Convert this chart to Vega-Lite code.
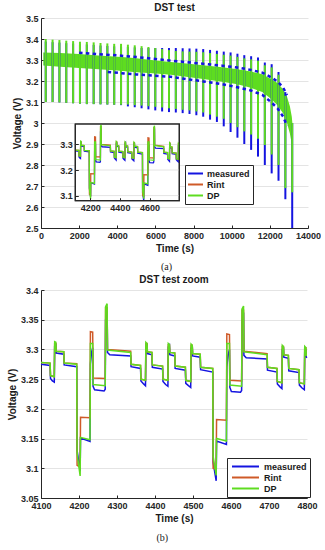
{
"$schema":"https://vega.github.io/schema/vega-lite/v6.json",
"padding":{"left":7,"top":3,"right":0,"bottom":0},
"config":{
 "font":"Liberation Sans",
 "view":{"stroke":null},
 "axis":{"labelFont":"Liberation Sans","labelFontSize":9,"labelFontWeight":"bold","labelColor":"#262626","titleFont":"Liberation Sans","titleFontSize":10,"titleFontWeight":"bold","titleColor":"#1a1a1a","domainColor":"#262626","domainWidth":1,"tickColor":"#262626","tickSize":-3,"labelPadding":6,"gridColor":"#e4e4e4","gridWidth":1,"labelFlush":false,"labelOverlap":false,"titlePadding":3},
 "axisX":{"grid":false},
 "title":{"font":"Liberation Sans","fontSize":10,"fontWeight":"bold","color":"#1a1a1a","offset":1,"frame":"group"},
 "legend":{"title":null,"orient":"none","symbolStrokeWidth":2,"symbolSize":81,"labelFont":"Liberation Sans","labelFontSize":9,"labelFontWeight":"bold","labelColor":"#1a1a1a","strokeColor":"#262626","fillColor":"white","padding":3},
 "concat":{"spacing":3}
},
"datasets":{
 "zoom":[
  {"s":"measured","t":4100,"v":3.275},{"s":"measured","t":4124,"v":3.273},{"s":"measured","t":4125,"v":3.251},{"s":"measured","t":4130,"v":3.247},{"s":"measured","t":4135,"v":3.245},{"s":"measured","t":4136,"v":3.306},{"s":"measured","t":4139,"v":3.31},{"s":"measured","t":4140,"v":3.294},{"s":"measured","t":4160,"v":3.292},{"s":"measured","t":4161,"v":3.274},{"s":"measured","t":4194,"v":3.271},{"s":"measured","t":4195,"v":3.13},{"s":"measured","t":4203,"v":3.095},{"s":"measured","t":4204,"v":3.151},{"s":"measured","t":4229,"v":3.145},{"s":"measured","t":4230,"v":3.275},{"s":"measured","t":4233,"v":3.295},{"s":"measured","t":4236,"v":3.303},{"s":"measured","t":4237,"v":3.238},{"s":"measured","t":4241,"v":3.232},{"s":"measured","t":4266,"v":3.23},{"s":"measured","t":4269,"v":3.233},{"s":"measured","t":4270,"v":3.35},{"s":"measured","t":4274,"v":3.365},{"s":"measured","t":4275,"v":3.295},{"s":"measured","t":4281,"v":3.291},{"s":"measured","t":4336,"v":3.289},{"s":"measured","t":4337,"v":3.271},{"s":"measured","t":4362,"v":3.268},{"s":"measured","t":4363,"v":3.247},{"s":"measured","t":4370,"v":3.242},{"s":"measured","t":4375,"v":3.239},{"s":"measured","t":4376,"v":3.305},{"s":"measured","t":4379,"v":3.309},{"s":"measured","t":4380,"v":3.293},{"s":"measured","t":4392,"v":3.291},{"s":"measured","t":4393,"v":3.27},{"s":"measured","t":4420,"v":3.267},{"s":"measured","t":4421,"v":3.246},{"s":"measured","t":4428,"v":3.241},{"s":"measured","t":4434,"v":3.238},{"s":"measured","t":4435,"v":3.304},{"s":"measured","t":4438,"v":3.307},{"s":"measured","t":4439,"v":3.291},{"s":"measured","t":4452,"v":3.289},{"s":"measured","t":4453,"v":3.268},{"s":"measured","t":4480,"v":3.265},{"s":"measured","t":4481,"v":3.243},{"s":"measured","t":4488,"v":3.239},{"s":"measured","t":4494,"v":3.236},{"s":"measured","t":4495,"v":3.302},{"s":"measured","t":4498,"v":3.306},{"s":"measured","t":4499,"v":3.289},{"s":"measured","t":4519,"v":3.287},{"s":"measured","t":4520,"v":3.266},{"s":"measured","t":4552,"v":3.262},{"s":"measured","t":4553,"v":3.11},{"s":"measured","t":4561,"v":3.079},{"s":"measured","t":4562,"v":3.146},{"s":"measured","t":4588,"v":3.14},{"s":"measured","t":4589,"v":3.27},{"s":"measured","t":4592,"v":3.29},{"s":"measured","t":4596,"v":3.3},{"s":"measured","t":4597,"v":3.236},{"s":"measured","t":4601,"v":3.229},{"s":"measured","t":4625,"v":3.228},{"s":"measured","t":4628,"v":3.231},{"s":"measured","t":4629,"v":3.345},{"s":"measured","t":4633,"v":3.362},{"s":"measured","t":4634,"v":3.29},{"s":"measured","t":4640,"v":3.286},{"s":"measured","t":4695,"v":3.284},{"s":"measured","t":4696,"v":3.265},{"s":"measured","t":4721,"v":3.262},{"s":"measured","t":4722,"v":3.242},{"s":"measured","t":4729,"v":3.237},{"s":"measured","t":4734,"v":3.234},{"s":"measured","t":4735,"v":3.3},{"s":"measured","t":4738,"v":3.304},{"s":"measured","t":4739,"v":3.287},{"s":"measured","t":4751,"v":3.285},{"s":"measured","t":4752,"v":3.264},{"s":"measured","t":4779,"v":3.261},{"s":"measured","t":4780,"v":3.24},{"s":"measured","t":4787,"v":3.235},{"s":"measured","t":4793,"v":3.232},{"s":"measured","t":4794,"v":3.296},{"s":"measured","t":4797,"v":3.3},{"s":"measured","t":4798,"v":3.287},{"s":"measured","t":4800,"v":3.286},
  {"s":"Rint","t":4100,"v":3.278},{"s":"Rint","t":4124,"v":3.277},{"s":"Rint","t":4125,"v":3.256},{"s":"Rint","t":4135,"v":3.254},{"s":"Rint","t":4136,"v":3.31},{"s":"Rint","t":4139,"v":3.31},{"s":"Rint","t":4140,"v":3.297},{"s":"Rint","t":4160,"v":3.296},{"s":"Rint","t":4161,"v":3.277},{"s":"Rint","t":4194,"v":3.276},{"s":"Rint","t":4195,"v":3.105},{"s":"Rint","t":4203,"v":3.102},{"s":"Rint","t":4204,"v":3.186},{"s":"Rint","t":4229,"v":3.185},{"s":"Rint","t":4230,"v":3.33},{"s":"Rint","t":4236,"v":3.329},{"s":"Rint","t":4237,"v":3.252},{"s":"Rint","t":4269,"v":3.251},{"s":"Rint","t":4270,"v":3.37},{"s":"Rint","t":4274,"v":3.37},{"s":"Rint","t":4275,"v":3.3},{"s":"Rint","t":4336,"v":3.297},{"s":"Rint","t":4337,"v":3.275},{"s":"Rint","t":4362,"v":3.273},{"s":"Rint","t":4363,"v":3.25},{"s":"Rint","t":4375,"v":3.248},{"s":"Rint","t":4376,"v":3.31},{"s":"Rint","t":4379,"v":3.31},{"s":"Rint","t":4380,"v":3.296},{"s":"Rint","t":4392,"v":3.295},{"s":"Rint","t":4393,"v":3.274},{"s":"Rint","t":4420,"v":3.272},{"s":"Rint","t":4421,"v":3.25},{"s":"Rint","t":4434,"v":3.248},{"s":"Rint","t":4435,"v":3.308},{"s":"Rint","t":4438,"v":3.308},{"s":"Rint","t":4439,"v":3.295},{"s":"Rint","t":4452,"v":3.294},{"s":"Rint","t":4453,"v":3.272},{"s":"Rint","t":4480,"v":3.27},{"s":"Rint","t":4481,"v":3.248},{"s":"Rint","t":4494,"v":3.246},{"s":"Rint","t":4495,"v":3.307},{"s":"Rint","t":4498,"v":3.307},{"s":"Rint","t":4499,"v":3.293},{"s":"Rint","t":4519,"v":3.292},{"s":"Rint","t":4520,"v":3.27},{"s":"Rint","t":4552,"v":3.268},{"s":"Rint","t":4553,"v":3.1},{"s":"Rint","t":4561,"v":3.098},{"s":"Rint","t":4562,"v":3.182},{"s":"Rint","t":4588,"v":3.181},{"s":"Rint","t":4589,"v":3.326},{"s":"Rint","t":4596,"v":3.325},{"s":"Rint","t":4597,"v":3.248},{"s":"Rint","t":4628,"v":3.247},{"s":"Rint","t":4629,"v":3.366},{"s":"Rint","t":4633,"v":3.366},{"s":"Rint","t":4634,"v":3.297},{"s":"Rint","t":4695,"v":3.293},{"s":"Rint","t":4696,"v":3.27},{"s":"Rint","t":4721,"v":3.268},{"s":"Rint","t":4722,"v":3.246},{"s":"Rint","t":4734,"v":3.244},{"s":"Rint","t":4735,"v":3.305},{"s":"Rint","t":4738,"v":3.305},{"s":"Rint","t":4739,"v":3.291},{"s":"Rint","t":4751,"v":3.29},{"s":"Rint","t":4752,"v":3.268},{"s":"Rint","t":4779,"v":3.266},{"s":"Rint","t":4780,"v":3.244},{"s":"Rint","t":4793,"v":3.242},{"s":"Rint","t":4794,"v":3.303},{"s":"Rint","t":4797,"v":3.303},{"s":"Rint","t":4798,"v":3.29},{"s":"Rint","t":4800,"v":3.29},
  {"s":"DP","t":4100,"v":3.278},{"s":"DP","t":4124,"v":3.277},{"s":"DP","t":4125,"v":3.256},{"s":"DP","t":4135,"v":3.254},{"s":"DP","t":4136,"v":3.313},{"s":"DP","t":4139,"v":3.312},{"s":"DP","t":4140,"v":3.297},{"s":"DP","t":4160,"v":3.296},{"s":"DP","t":4161,"v":3.277},{"s":"DP","t":4194,"v":3.275},{"s":"DP","t":4195,"v":3.125},{"s":"DP","t":4203,"v":3.087},{"s":"DP","t":4204,"v":3.152},{"s":"DP","t":4229,"v":3.148},{"s":"DP","t":4230,"v":3.31},{"s":"DP","t":4236,"v":3.31},{"s":"DP","t":4237,"v":3.241},{"s":"DP","t":4269,"v":3.239},{"s":"DP","t":4270,"v":3.372},{"s":"DP","t":4274,"v":3.377},{"s":"DP","t":4275,"v":3.299},{"s":"DP","t":4336,"v":3.295},{"s":"DP","t":4337,"v":3.275},{"s":"DP","t":4362,"v":3.273},{"s":"DP","t":4363,"v":3.25},{"s":"DP","t":4375,"v":3.248},{"s":"DP","t":4376,"v":3.312},{"s":"DP","t":4379,"v":3.31},{"s":"DP","t":4380,"v":3.296},{"s":"DP","t":4392,"v":3.295},{"s":"DP","t":4393,"v":3.274},{"s":"DP","t":4420,"v":3.272},{"s":"DP","t":4421,"v":3.25},{"s":"DP","t":4434,"v":3.248},{"s":"DP","t":4435,"v":3.31},{"s":"DP","t":4438,"v":3.308},{"s":"DP","t":4439,"v":3.295},{"s":"DP","t":4452,"v":3.294},{"s":"DP","t":4453,"v":3.272},{"s":"DP","t":4480,"v":3.27},{"s":"DP","t":4481,"v":3.248},{"s":"DP","t":4494,"v":3.246},{"s":"DP","t":4495,"v":3.309},{"s":"DP","t":4498,"v":3.307},{"s":"DP","t":4499,"v":3.293},{"s":"DP","t":4519,"v":3.292},{"s":"DP","t":4520,"v":3.27},{"s":"DP","t":4552,"v":3.268},{"s":"DP","t":4553,"v":3.12},{"s":"DP","t":4561,"v":3.088},{"s":"DP","t":4562,"v":3.15},{"s":"DP","t":4588,"v":3.146},{"s":"DP","t":4589,"v":3.31},{"s":"DP","t":4596,"v":3.31},{"s":"DP","t":4597,"v":3.24},{"s":"DP","t":4628,"v":3.238},{"s":"DP","t":4629,"v":3.368},{"s":"DP","t":4633,"v":3.373},{"s":"DP","t":4634,"v":3.296},{"s":"DP","t":4695,"v":3.291},{"s":"DP","t":4696,"v":3.27},{"s":"DP","t":4721,"v":3.268},{"s":"DP","t":4722,"v":3.246},{"s":"DP","t":4734,"v":3.244},{"s":"DP","t":4735,"v":3.307},{"s":"DP","t":4738,"v":3.305},{"s":"DP","t":4739,"v":3.291},{"s":"DP","t":4751,"v":3.29},{"s":"DP","t":4752,"v":3.268},{"s":"DP","t":4779,"v":3.266},{"s":"DP","t":4780,"v":3.244},{"s":"DP","t":4793,"v":3.242},{"s":"DP","t":4794,"v":3.305},{"s":"DP","t":4797,"v":3.303},{"s":"DP","t":4798,"v":3.29},{"s":"DP","t":4800,"v":3.29}
 ],
 "spikes":[
  {"s":"measured","t":248,"lo":3.1,"hi":3.388},{"s":"measured","t":607,"lo":3.1,"hi":3.385},{"s":"measured","t":966,"lo":3.098,"hi":3.383},{"s":"measured","t":1325,"lo":3.096,"hi":3.38},{"s":"measured","t":1684,"lo":3.094,"hi":3.378},{"s":"measured","t":2043,"lo":3.092,"hi":3.375},{"s":"measured","t":2402,"lo":3.09,"hi":3.374},{"s":"measured","t":2761,"lo":3.09,"hi":3.372},{"s":"measured","t":3120,"lo":3.089,"hi":3.369},{"s":"measured","t":3479,"lo":3.088,"hi":3.367},{"s":"measured","t":3838,"lo":3.087,"hi":3.365},{"s":"measured","t":4197,"lo":3.085,"hi":3.365},{"s":"measured","t":4556,"lo":3.079,"hi":3.362},{"s":"measured","t":4915,"lo":3.075,"hi":3.36},{"s":"measured","t":5274,"lo":3.07,"hi":3.357},{"s":"measured","t":5633,"lo":3.065,"hi":3.357},{"s":"measured","t":5992,"lo":3.06,"hi":3.357},{"s":"measured","t":6351,"lo":3.055,"hi":3.357},{"s":"measured","t":6710,"lo":3.052,"hi":3.357},{"s":"measured","t":7069,"lo":3.05,"hi":3.357},{"s":"measured","t":7428,"lo":3.047,"hi":3.356},{"s":"measured","t":7787,"lo":3.043,"hi":3.355},{"s":"measured","t":8146,"lo":3.037,"hi":3.354},{"s":"measured","t":8505,"lo":3.03,"hi":3.352},{"s":"measured","t":8864,"lo":3.016,"hi":3.348},{"s":"measured","t":9223,"lo":3.005,"hi":3.344},{"s":"measured","t":9582,"lo":2.984,"hi":3.34},{"s":"measured","t":9941,"lo":2.957,"hi":3.336},{"s":"measured","t":10300,"lo":2.93,"hi":3.33},{"s":"measured","t":10659,"lo":2.9,"hi":3.323},{"s":"measured","t":11018,"lo":2.872,"hi":3.318},{"s":"measured","t":11377,"lo":2.84,"hi":3.312},{"s":"measured","t":11736,"lo":2.8,"hi":3.288},{"s":"measured","t":12095,"lo":2.76,"hi":3.28},{"s":"measured","t":12454,"lo":2.725,"hi":3.243},{"s":"measured","t":12813,"lo":2.637,"hi":3.147},{"s":"measured","t":13172,"lo":2.5,"hi":3.0},
  {"s":"DP","t":248,"lo":3.1,"hi":3.4},{"s":"DP","t":607,"lo":3.1,"hi":3.397},{"s":"DP","t":966,"lo":3.098,"hi":3.395},{"s":"DP","t":1325,"lo":3.096,"hi":3.392},{"s":"DP","t":1684,"lo":3.094,"hi":3.39},{"s":"DP","t":2043,"lo":3.092,"hi":3.387},{"s":"DP","t":2402,"lo":3.09,"hi":3.386},{"s":"DP","t":2761,"lo":3.09,"hi":3.384},{"s":"DP","t":3120,"lo":3.089,"hi":3.381},{"s":"DP","t":3479,"lo":3.088,"hi":3.379},{"s":"DP","t":3838,"lo":3.087,"hi":3.377},{"s":"DP","t":4197,"lo":3.087,"hi":3.377},{"s":"DP","t":4556,"lo":3.088,"hi":3.373},{"s":"DP","t":4915,"lo":3.085,"hi":3.37},{"s":"DP","t":5274,"lo":3.083,"hi":3.366},{"s":"DP","t":5633,"lo":3.08,"hi":3.362},{"s":"DP","t":5992,"lo":3.077,"hi":3.357},{"s":"DP","t":6351,"lo":3.074,"hi":3.352},{"s":"DP","t":6710,"lo":3.07,"hi":3.347},{"s":"DP","t":7069,"lo":3.067,"hi":3.343},{"s":"DP","t":7428,"lo":3.063,"hi":3.341},{"s":"DP","t":7787,"lo":3.06,"hi":3.34},{"s":"DP","t":8146,"lo":3.055,"hi":3.339},{"s":"DP","t":8505,"lo":3.05,"hi":3.337},{"s":"DP","t":8864,"lo":3.04,"hi":3.333},{"s":"DP","t":9223,"lo":3.03,"hi":3.329},{"s":"DP","t":9582,"lo":3.02,"hi":3.325},{"s":"DP","t":9941,"lo":3.0,"hi":3.321},{"s":"DP","t":10300,"lo":2.98,"hi":3.315},{"s":"DP","t":10659,"lo":2.96,"hi":3.308},{"s":"DP","t":11018,"lo":2.945,"hi":3.303},{"s":"DP","t":11377,"lo":2.925,"hi":3.297},{"s":"DP","t":11736,"lo":2.895,"hi":3.275},{"s":"DP","t":12095,"lo":2.85,"hi":3.265},{"s":"DP","t":12454,"lo":2.8,"hi":3.23},{"s":"DP","t":12813,"lo":2.69,"hi":3.13},{"s":"DP","t":13172,"lo":2.67,"hi":3.0}
 ],
 "band":[
  {"t":120,"lo":3.274,"hi":3.336},{"t":1000,"lo":3.268,"hi":3.333},{"t":2000,"lo":3.262,"hi":3.328},{"t":3000,"lo":3.256,"hi":3.322},{"t":4000,"lo":3.25,"hi":3.316},{"t":4400,"lo":3.246,"hi":3.313},{"t":5000,"lo":3.242,"hi":3.308},{"t":6000,"lo":3.236,"hi":3.298},{"t":6800,"lo":3.23,"hi":3.29},{"t":7500,"lo":3.222,"hi":3.284},{"t":8500,"lo":3.21,"hi":3.275},{"t":9500,"lo":3.197,"hi":3.266},{"t":10300,"lo":3.184,"hi":3.256},{"t":11000,"lo":3.168,"hi":3.245},{"t":11600,"lo":3.148,"hi":3.232},{"t":12060,"lo":3.115,"hi":3.21},{"t":12400,"lo":3.085,"hi":3.19},{"t":12700,"lo":3.045,"hi":3.16},{"t":12900,"lo":3.0,"hi":3.125},{"t":13050,"lo":2.95,"hi":3.08},{"t":13150,"lo":2.9,"hi":3.03},{"t":13190,"lo":2.86,"hi":2.99}
 ],
 "edges":[
  {"e":"top","t":2000,"lo":3.334},{"e":"top","t":3000,"lo":3.328},{"e":"top","t":4000,"lo":3.322},{"e":"top","t":5000,"lo":3.314},{"e":"top","t":6000,"lo":3.305},{"e":"top","t":6800,"lo":3.297},{"e":"top","t":7500,"lo":3.291},{"e":"top","t":8500,"lo":3.282},{"e":"top","t":9500,"lo":3.273},{"e":"top","t":10300,"lo":3.264},{"e":"top","t":11000,"lo":3.253},{"e":"top","t":11600,"lo":3.24},{"e":"top","t":12060,"lo":3.218},{"e":"top","t":12400,"lo":3.198},{"e":"top","t":12700,"lo":3.168},{"e":"top","t":12900,"lo":3.133},
  {"e":"bot","t":3500,"lo":3.243},{"e":"bot","t":4400,"lo":3.236},{"e":"bot","t":5000,"lo":3.231},{"e":"bot","t":6000,"lo":3.225},{"e":"bot","t":6800,"lo":3.22},{"e":"bot","t":7500,"lo":3.211},{"e":"bot","t":8500,"lo":3.198},{"e":"bot","t":9500,"lo":3.185},{"e":"bot","t":10300,"lo":3.17},{"e":"bot","t":11000,"lo":3.155},{"e":"bot","t":11600,"lo":3.134},{"e":"bot","t":12060,"lo":3.1},{"e":"bot","t":12400,"lo":3.07},{"e":"bot","t":12700,"lo":3.03},{"e":"bot","t":12900,"lo":2.985}
 ]
},
"resolve":{"scale":{"color":"independent"},"legend":{"color":"independent"}},
"vconcat":[
 {"title":{"text":"(a)","orient":"bottom","anchor":"middle","font":"Liberation Serif","fontWeight":"normal","fontSize":10,"frame":"bounds","offset":9},
  "vconcat":[{
  "width":267,"height":210,
  "title":"DST test",
  "resolve":{"scale":{"x":"independent","y":"independent"}},
  "layer":[
   {"encoding":{
      "x":{"field":"t","type":"quantitative","scale":{"domain":[0,14000],"nice":false,"zero":false},"axis":{"values":[0,2000,4000,6000,8000,10000,12000,14000],"format":"d","title":"Time (s)","labelOverlap":false}},
      "y":{"field":"lo","type":"quantitative","scale":{"domain":[2.5,3.5],"nice":false,"zero":false},"axis":{"values":[2.5,2.6,2.7,2.8,2.9,3.0,3.1,3.2,3.3,3.4,3.5],"format":".1~f","title":"Voltage (V)","grid":true,"labelOverlap":false}}},
    "layer":[
     {"data":{"name":"band"},"mark":{"type":"area","color":"#5edc20","opacity":1},
      "encoding":{"y2":{"field":"hi"}}},
     {"data":{"name":"spikes"},"mark":{"type":"rule","strokeWidth":2},
      "encoding":{
       "y2":{"field":"hi"},
       "color":{"field":"s","type":"nominal","scale":{"domain":["measured","Rint","DP"],"range":["#1414e0","#cf5a28","#5edc20"]},"legend":{"legendX":144,"legendY":147,"symbolType":"M-1.667,0H1.667","symbolOffset":2,"labelOffset":6,"rowPadding":-1}}}},
     {"data":{"name":"edges"},"mark":{"type":"line","color":"#1414e0","strokeWidth":2.5,"strokeDash":[3.4,3.4]},
      "encoding":{"detail":{"field":"e"}}}
   ]},
   {"encoding":{
      "x":{"field":"t","type":"quantitative","scale":{"domain":[3869.1,5666.2],"nice":false,"zero":false},"axis":{"orient":"bottom","offset":-27.3,"values":[4200,4400,4600],"format":"d","title":null,"domain":false,"grid":false,"zindex":1,"labelOverlap":false}},
      "y":{"field":"v","type":"quantitative","scale":{"domain":[2.9732,3.7946],"nice":false,"zero":false},"axis":{"orient":"left","offset":-34.3,"values":[3.1,3.2,3.3],"format":".1f","title":null,"domain":false,"grid":false,"zindex":1,"labelOverlap":false}}},
    "layer":[
     {"data":{"values":[{"t":4100,"t2":4800,"v":3.08,"v2":3.38}]},"mark":{"type":"rect","fill":"white","stroke":"#262626","strokeWidth":1.2},
      "encoding":{"x2":{"field":"t2"},"y2":{"field":"v2"}}},
     {"data":{"values":[{"v":3.1,"t":4100,"t2":4800},{"v":3.2,"t":4100,"t2":4800},{"v":3.3,"t":4100,"t2":4800}]},"mark":{"type":"rule","color":"#e4e4e4","strokeWidth":1},
      "encoding":{"x2":{"field":"t2"}}},
     {"data":{"name":"zoom"},"transform":[{"filter":"datum.s == 'measured'"}],"mark":{"type":"line","strokeWidth":1.3},
      "encoding":{"color":{"field":"s","type":"nominal","legend":null}}},
     {"data":{"name":"zoom"},"transform":[{"filter":"datum.s == 'Rint'"}],"mark":{"type":"line","strokeWidth":1.3},
      "encoding":{"color":{"field":"s","type":"nominal","legend":null}}},
     {"data":{"name":"zoom"},"transform":[{"filter":"datum.s == 'DP'"}],"mark":{"type":"line","strokeWidth":1.3},
      "encoding":{"color":{"field":"s","type":"nominal","legend":null}}},
     {"data":{"values":[{"t":4100,"t2":4800,"v":3.08,"v2":3.38}]},"mark":{"type":"rect","fill":null,"filled":false,"stroke":"#262626","strokeWidth":1.2},
      "encoding":{"x2":{"field":"t2"},"y2":{"field":"v2"}}}
   ]}
  ]}]},
 {"title":{"text":"(b)","orient":"bottom","anchor":"middle","font":"Liberation Serif","fontWeight":"normal","fontSize":10,"frame":"bounds","offset":10},
  "vconcat":[{
  "width":266,"height":208,
  "title":"DST test zoom",
  "data":{"name":"zoom"},
  "encoding":{
   "x":{"field":"t","type":"quantitative","scale":{"domain":[4100,4800],"nice":false,"zero":false},"axis":{"values":[4100,4200,4300,4400,4500,4600,4700,4800],"format":"d","title":"Time (s)","labelOverlap":false}},
   "y":{"field":"v","type":"quantitative","scale":{"domain":[3.05,3.4],"nice":false,"zero":false},"axis":{"values":[3.05,3.1,3.15,3.2,3.25,3.3,3.35,3.4],"format":".2~f","title":"Voltage (V)","grid":true,"labelOverlap":false}},
   "color":{"field":"s","type":"nominal","scale":{"domain":["measured","Rint","DP"],"range":["#1414e0","#cf5a28","#5edc20"]},"legend":{"legendX":186,"legendY":168,"symbolType":"M-3,0H3","symbolOffset":10,"labelOffset":13,"rowPadding":-2}}
  },
  "layer":[
   {"transform":[{"filter":"datum.s == 'measured'"}],"mark":{"type":"line","strokeWidth":1.5}},
   {"transform":[{"filter":"datum.s == 'Rint'"}],"mark":{"type":"line","strokeWidth":1.5}},
   {"transform":[{"filter":"datum.s == 'DP'"}],"mark":{"type":"line","strokeWidth":1.5}}
  ]}]}
]
}
